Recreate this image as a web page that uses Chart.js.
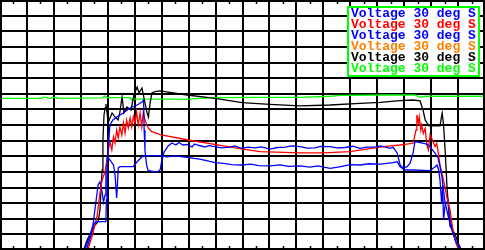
<!DOCTYPE html>
<html>
<head>
<meta charset="utf-8">
<script src="https://cdn.jsdelivr.net/npm/chart.js@4/dist/chart.umd.min.js"></script>
<style>
  html, body { margin: 0; padding: 0; background: #fff; }
  #wrap { width: 485px; height: 250px; position: relative; }
</style>
</head>
<body>
<div id="wrap"><canvas id="scope"></canvas></div>
<script>
// Scope trace, x = time (10 per division), y = voltage (10 per division)
const legendLabels = ['Voltage 30 deg S', 'Voltage 30 deg S', 'Voltage 30 deg S',
                      'Voltage 30 deg S', 'Voltage 30 deg S', 'Voltage 30 deg S'];
const traceColors = ['#0000ff', '#ff0000', '#0000ff', '#ff8000', '#000000', '#00ff00'];

const blueAX = [31.6,33.4,34.5,35.6,39.3,39.5,39.7,39.9,40.8,41.9,43.4,45.7,48.3,50.9,52.7,53.3,53.5,53.8,54.4,54.9,55.7,58.3,59.4,60.1,60.9,62.4,63.8,65.3,66.4,67.9,69.4,70.5,71.3,72.2,73.1,75.0,76.1,77.5,79.8,82.0,85.4,87.0,89.8,92.0,94.7,97.0,100.2,103.0,105.8,108.0,111.4,114.0,116.9,119.0,122.5,125.0,128.1,131.0,133.6,136.0,139.2,141.1,144.8,145.9,147.4,148.5,149.6,151.1,152.2,153.3,154.0,155.9,158.5,159.6,161.5,162.6,163.3,164.0,164.6,165.2,166.4,167.7,168.9,170.8];
const blueAY = [0.6,9.6,16.0,18.1,18.1,32.0,46.1,58.9,80.0,83.2,85.1,87.7,90.9,92.8,94.7,96.0,76.8,64.0,54.4,51.2,50.6,49.9,51.2,57.6,62.7,66.6,68.5,67.2,68.8,67.2,67.5,66.6,65.9,67.8,67.2,66.4,65.9,66.8,66.2,65.4,65.9,66.6,65.0,65.8,65.3,66.0,64.6,65.6,65.9,66.6,66.2,65.2,65.3,66.3,66.2,65.4,65.6,66.4,65.0,65.8,65.9,66.6,65.1,65.7,62.1,54.4,52.3,53.3,55.5,62.1,69.3,68.7,67.8,66.1,61.9,58.7,53.3,46.9,38.4,30.1,21.3,12.8,6.4,1.3];

const redX = [32.7,34.5,36.0,37.1,37.9,39.0,39.5,40.1,40.8,41.5,42.1,42.7,43.3,43.9,44.5,45.2,45.8,46.4,47.0,47.6,48.3,48.9,49.5,50.1,50.7,51.3,52.0,52.6,53.2,53.8,54.5,55.0,56.3,58.2,59.4,69.8,80.2,90.2,96.5,111.4,119.9,129.9,142.2,148.5,153.3,154.4,154.7,155.3,155.6,156.2,156.5,157.1,157.8,158.4,159.0,159.6,160.2,161.5,162.1,162.7,163.3,164.6,165.8,167.0,168.3,169.5,170.1];
const redY = [0.6,10.9,21.3,36.5,44.8,50.1,54.4,62.9,69.3,64.0,72.5,68.5,76.8,71.7,78.9,73.6,81.3,74.9,83.2,78.1,84.5,78.9,85.3,81.3,88.5,80.0,87.7,78.9,88.5,83.2,80.0,78.1,75.7,74.7,73.9,70.4,67.5,64.6,63.0,62.1,62.1,63.0,66.1,67.2,68.3,76.8,86.4,81.3,85.3,76.8,80.0,74.7,77.9,67.2,64.0,73.6,71.5,66.1,68.3,61.9,54.4,44.8,34.1,25.6,10.7,3.2,0.6];

const blueBX = [32.3,34.2,35.3,36.4,37.1,37.9,38.4,39.0,39.3,39.8,40.8,42.1,42.7,43.3,43.9,44.5,49.4,50.9,52.7,55.7,59.4,62.0,65.0,69.4,72.0,74.2,77.0,79.8,83.0,86.0,89.8,93.0,96.0,100.2,104.0,107.0,111.4,115.0,118.0,122.5,126.0,130.0,133.6,137.0,141.1,145.9,147.4,148.5,150.3,153.3,159.6,161.5,162.2,162.8,163.3,163.9,164.3,164.6,165.2,166.3,167.0,168.3,169.5,170.8];
const blueBY = [1.3,11.5,26.9,41.6,43.7,37.1,30.7,35.2,52.5,59.7,57.6,54.4,48.0,33.3,52.5,53.3,53.3,56.5,59.7,60.4,60.4,59.6,60.2,59.3,58.6,58.2,57.0,55.9,55.4,54.6,54.4,55.0,54.0,53.8,54.5,53.5,53.8,53.0,53.8,52.3,53.2,54.6,54.4,55.2,55.0,55.9,56.5,53.3,51.2,51.2,50.8,53.3,54.4,51.2,44.8,30.1,41.6,19.2,28.8,32.0,19.2,10.9,3.2,0.6];

const orangeX = [];
const orangeY = [];

const blackX = [31.2,32.3,34.2,35.3,36.4,37.1,37.5,37.9,38.2,38.6,39.0,39.3,39.7,40.1,40.8,41.6,42.7,43.8,44.5,45.3,46.0,47.1,48.6,49.7,50.9,51.6,52.7,53.8,54.6,55.1,55.7,56.4,57.5,59.4,69.4,79.8,89.8,100.2,111.4,122.5,133.6,141.1,148.5,153.3,155.9,157.0,157.8,159.2,163.3,164.1,164.6,165.2,165.9,166.5,167.0,168.9,170.0,171.1];
const blackY = [0.6,6.4,12.8,16.0,18.1,25.6,38.4,51.2,70.4,86.4,90.9,93.4,88.3,81.3,84.5,87.7,85.1,83.2,88.3,97.9,87.7,91.5,89.6,99.2,104.3,100.5,103.7,94.1,87.7,85.1,94.1,100.5,101.4,101.8,99.2,97.1,94.3,93.2,92.2,92.8,93.9,94.5,95.6,96.0,95.4,89.6,83.2,79.4,79.4,87.7,80.6,64.0,40.3,25.6,15.4,10.2,4.5,0.6];

const greenX = [0,15.6,16.0,17.4,17.8,18.9,19.3,20.8,21.2,38.2,38.6,39.3,39.7,48.3,48.6,59.4,63.1,69.0,74.2,79.8,96.5,111.4,122.5,126.2,141.1,154.0,155.9,157.8,170.8,180];
const greenY = [97.1,97.1,97.7,97.7,97.1,97.1,97.7,97.7,97.1,97.3,98.4,98.4,97.5,97.5,96.6,96.6,96.6,96.4,97.1,97.5,97.7,97.7,98.4,99.0,99.2,99.2,97.7,98.4,98.4,98.4];

function toPoints(xs, ys) {
    return xs.map((x, i) => ({ x: x, y: ys[i] }));
}

const traces = [
    toPoints(blueAX, blueAY),
    toPoints(redX, redY),
    toPoints(blueBX, blueBY),
    toPoints(orangeX, orangeY),
    toPoints(blackX, blackY),
    toPoints(greenX, greenY)
];

// Half-division marks along top and bottom edges, plus the frame
const scopeFrame = {
    id: 'scopeFrame',
    afterDraw(chart) {
        const ctx = chart.ctx;
        const xs = chart.scales.x;
        const area = chart.chartArea;
        ctx.save();
        ctx.strokeStyle = '#000';
        ctx.lineWidth = 1.5;
        ctx.beginPath();
        for (let v = 5; v < 180; v += 10) {
            const px = Math.round(xs.getPixelForValue(v)) + 0.5;
            ctx.moveTo(px, area.top);
            ctx.lineTo(px, area.top + 4);
            ctx.moveTo(px, area.bottom);
            ctx.lineTo(px, area.bottom - 4);
        }
        ctx.stroke();
        ctx.lineWidth = 2;
        ctx.strokeRect(area.left + 1, area.top + 1, area.right - area.left - 2, area.bottom - area.top - 2);
        ctx.restore();
    }
};

// Legend box in the top right corner
const scopeLegend = {
    id: 'scopeLegend',
    afterDraw(chart) {
        const ctx = chart.ctx;
        ctx.save();
        ctx.fillStyle = '#fff';
        ctx.fillRect(348, 7, 131, 69);
        ctx.strokeStyle = '#00ff00';
        ctx.lineWidth = 2;
        ctx.strokeRect(348, 7, 131, 69);
        ctx.font = 'bold 13px "Liberation Mono", "DejaVu Sans Mono", monospace';
        ctx.textBaseline = 'middle';
        chart.data.datasets.forEach((ds, i) => {
            ctx.fillStyle = ds.borderColor;
            ctx.fillText(ds.label, 351, 14 + i * 11);
        });
        ctx.restore();
    }
};

new Chart(document.getElementById('scope'), {
    type: 'line',
    data: {
        datasets: traces.map((pts, i) => ({
            label: legendLabels[i],
            data: pts,
            borderColor: traceColors[i],
            backgroundColor: traceColors[i],
            borderWidth: 1.3,
            pointRadius: 0,
            fill: false,
            tension: 0
        }))
    },
    options: {
        responsive: true,
        maintainAspectRatio: false,
        animation: false,
        devicePixelRatio: 1,
        layout: { padding: 0 },
        plugins: {
            legend: { display: false },
            tooltip: { enabled: false }
        },
        scales: {
            x: {
                type: 'linear',
                min: 0,
                max: 180,
                ticks: { display: false, stepSize: 10 },
                grid: { color: '#000', lineWidth: 2, drawTicks: false },
                border: { display: false }
            },
            y: {
                type: 'linear',
                min: 0,
                max: 160,
                ticks: { display: false, stepSize: 10 },
                grid: { color: '#000', lineWidth: 2, drawTicks: false },
                border: { display: false }
            }
        }
    },
    plugins: [scopeFrame, scopeLegend]
});
</script>
</body>
</html>
